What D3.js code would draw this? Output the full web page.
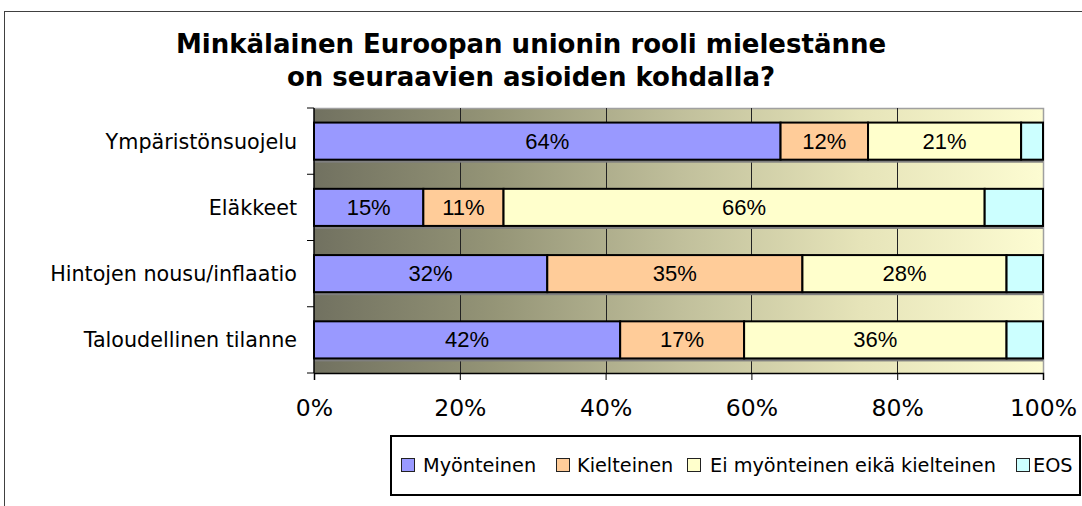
<!DOCTYPE html>
<html>
<head>
<meta charset="utf-8">
<script src="https://cdn.jsdelivr.net/npm/d3@7"></script>
<style>
  body { margin: 0; background: #fff; }
</style>
</head>
<body>
<div id="chart"></div>
<script>
const width = 1082;
const height = 506;

const categories = ["Ympäristönsuojelu", "Eläkkeet", "Hintojen nousu/inflaatio", "Taloudellinen tilanne"];
const seriesNames = ["Myönteinen", "Kielteinen", "Ei myönteinen eikä kielteinen", "EOS"];
const myonteinen = [64, 15, 32, 42];
const kielteinen = [12, 11, 35, 17];
const eiKumpikaan = [21, 66, 28, 36];
const eos = [3, 8, 5, 5];
const xTicks = [0, 0.2, 0.4, 0.6, 0.8, 1];
const colors = ["#9999ff", "#ffcc99", "#ffffcc", "#ccffff"];

const rows = categories.map((c, i) => ({
  name: c,
  values: [myonteinen[i], kielteinen[i], eiKumpikaan[i], eos[i]]
}));

const svg = d3.select("#chart")
  .append("svg")
  .attr("width", width)
  .attr("height", height);

// outer chart frame
svg.append("rect")
  .attr("x", 4.5).attr("y", 11.5)
  .attr("width", 1200).attr("height", 700)
  .attr("fill", "#fff")
  .attr("stroke", "#404040");

svg.append("text")
  .attr("x", 531).attr("y", 53)
  .attr("text-anchor", "middle")
  .attr("font-family", "DejaVu Sans")
  .attr("font-weight", "bold")
  .attr("font-size", "26px")
  .text("Minkälainen Euroopan unionin rooli mielestänne");
svg.append("text")
  .attr("x", 531).attr("y", 86)
  .attr("text-anchor", "middle")
  .attr("font-family", "DejaVu Sans")
  .attr("font-weight", "bold")
  .attr("font-size", "26px")
  .text("on seuraavien asioiden kohdalla?");

const pLeft = 314, pRight = 1043, pTop = 108, pBottom = 373;

const x = d3.scaleLinear().domain([0, 1]).range([pLeft, pRight]);
const y = d3.scaleBand().domain(categories).range([pTop, pBottom])
  .paddingInner(0.44).paddingOuter(0.22);

const defs = svg.append("defs");
const grad = defs.append("linearGradient").attr("id", "bg")
  .attr("x1", "0%").attr("x2", "100%").attr("y1", "0%").attr("y2", "0%");
[["0%", "#717160"], ["25%", "#959577"], ["50%", "#c0bf9b"], ["75%", "#e6e4b9"], ["100%", "#fdfcd2"]]
  .forEach(s => grad.append("stop").attr("offset", s[0]).attr("stop-color", s[1]));

svg.append("rect")
  .attr("x", pLeft).attr("y", pTop)
  .attr("width", pRight - pLeft).attr("height", pBottom - pTop)
  .attr("fill", "url(#bg)");

// plot border top/right
svg.append("path")
  .attr("d", `M${pLeft},${pTop + 0.5}H${pRight + 0.5}V${pBottom}`)
  .attr("fill", "none").attr("stroke", "#a0a0a0").attr("stroke-width", 1.5);

// gridlines
svg.append("g").selectAll("line")
  .data(xTicks.slice(1, -1))
  .join("line")
  .attr("x1", d => Math.round(x(d)) + 0.5).attr("x2", d => Math.round(x(d)) + 0.5)
  .attr("y1", pTop).attr("y2", pBottom)
  .attr("stroke", "#222").attr("stroke-width", 1);

// bar shadows
svg.append("g").selectAll("rect")
  .data(rows)
  .join("rect")
  .attr("x", pLeft)
  .attr("y", d => y(d.name) + 3)
  .attr("width", pRight - pLeft)
  .attr("height", y.bandwidth())
  .attr("fill", "#7f7f7f");

// stacked segments
const segs = [];
rows.forEach(r => {
  let acc = 0;
  r.values.forEach((v, j) => {
    segs.push({ cat: r.name, j, v, x0: acc / 100, x1: (acc + v) / 100 });
    acc += v;
  });
});

const bars = svg.append("g");
bars.selectAll("rect")
  .data(segs)
  .join("rect")
  .attr("x", d => x(d.x0))
  .attr("y", d => y(d.cat))
  .attr("width", d => x(d.x1) - x(d.x0))
  .attr("height", y.bandwidth())
  .attr("fill", d => colors[d.j])
  .attr("stroke", "#000")
  .attr("stroke-width", 2);

bars.selectAll("text")
  .data(segs.filter(d => d.j < 3))
  .join("text")
  .attr("x", d => (x(d.x0) + x(d.x1)) / 2)
  .attr("y", d => y(d.cat) + y.bandwidth() / 2 + 7.5)
  .attr("text-anchor", "middle")
  .attr("font-family", "Liberation Sans")
  .attr("font-size", "22px")
  .text(d => d.v + "%");

// y axis
const ya = svg.append("g");
ya.append("line")
  .attr("x1", pLeft).attr("x2", pLeft).attr("y1", pTop).attr("y2", pBottom)
  .attr("stroke", "#000").attr("stroke-width", 1.5);
const bounds = d3.range(categories.length + 1).map(i => pTop + i * y.step());
ya.selectAll(".tk")
  .data(bounds)
  .join("line")
  .attr("x1", pLeft - 7).attr("x2", pLeft)
  .attr("y1", d => d).attr("y2", d => d)
  .attr("stroke", "#000");
ya.selectAll("text")
  .data(categories)
  .join("text")
  .attr("x", 297)
  .attr("y", d => y(d) + y.bandwidth() / 2 + 7.5)
  .attr("text-anchor", "end")
  .attr("font-family", "DejaVu Sans")
  .attr("font-size", "20.7px")
  .text(d => d);

// x axis
const xa = svg.append("g").attr("transform", `translate(0,${pBottom})`)
  .call(d3.axisBottom(x).tickValues(xTicks).tickFormat(d3.format(".0%")).tickSize(7).tickPadding(19));
xa.select(".domain").attr("stroke-width", 1.5);
xa.selectAll("text")
  .attr("font-family", "DejaVu Sans")
  .attr("font-size", "23.5px")
  .attr("fill", "#000");

// legend
const lg = svg.append("g");
lg.append("rect")
  .attr("x", 391).attr("y", 436)
  .attr("width", 689).attr("height", 59)
  .attr("fill", "#fff").attr("stroke", "#000").attr("stroke-width", 2);
const swatchX = [401, 556, 687, 1016];
const labelX = [423, 577, 710, 1033];
seriesNames.forEach((n, i) => {
  lg.append("rect")
    .attr("x", swatchX[i] + 0.5).attr("y", 458.5)
    .attr("width", 13).attr("height", 13)
    .attr("fill", colors[i]).attr("stroke", "#222");
  lg.append("text")
    .attr("x", labelX[i]).attr("y", 472)
    .attr("font-family", "DejaVu Sans")
    .attr("font-size", "19.3px")
    .text(n);
});
</script>
</body>
</html>
